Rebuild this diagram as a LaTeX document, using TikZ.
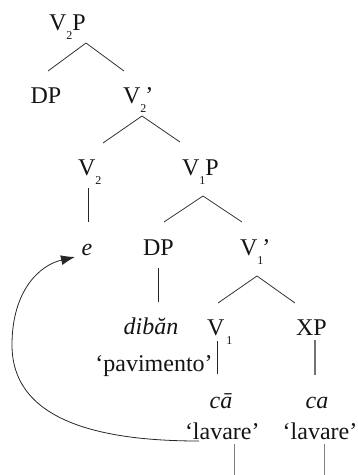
\documentclass[tikz,border=0pt]{standalone}
\usepackage{fontspec}
\setmainfont{Liberation Serif}
\usetikzlibrary{arrows.meta}
% lowered index digit for category labels
\newcommand\lowsub[1]{\raisebox{-9pt}{\fontsize{12}{12}\selectfont #1}}
\begin{document}
\begin{tikzpicture}[x=1pt,y=-1pt,
  lab/.style={inner sep=0pt,outer sep=0pt,font=\fontsize{24}{28}\selectfont,text=black!92},
  branch/.style={line width=0.8pt,draw=black!80},
  stem/.style={line width=0.9pt,draw=black!85},
  graystem/.style={line width=1.2pt,draw=black!55},
  tail/.style={line width=0.5pt,draw=black!50},
  move/.style={line width=0.8pt,draw=black!85,-{Latex[length=14pt,width=10pt]}}]
\useasboundingbox (0,0) rectangle (357,475);

% labels
\node[lab,anchor=base west] (v2p)   at (49,30)   {V\lowsub{2}P};
\node[lab,anchor=base]      (dpA)   at (46,103)  {DP};
\node[lab,anchor=base west] (v2bar) at (123,103) {V\lowsub{2}\kern-1pt’};
\node[lab,anchor=base west] (v2)    at (78,175)  {V\lowsub{2}};
\node[lab,anchor=base west] (v1p)   at (182,175) {V\lowsub{1}P};
\node[lab,anchor=base]      (e)     at (87,255)  {\itshape e};
\node[lab,anchor=base]      (dpB)   at (158.5,255) {DP};
\node[lab,anchor=base west] (v1bar) at (240,255) {V\lowsub{1}\kern-1pt’};
\node[lab,anchor=base]      (diban) at (151,334) {\itshape dibăn};
\node[lab,anchor=base west] (v1)    at (207,335) {V\kern2pt\lowsub{1}};
\node[lab,anchor=base]      (xp)    at (311.5,335) {XP};
\node[lab,anchor=base]      (pav)   at (154,371) {‘pavimento’};
\node[lab,anchor=base]      (caA)   at (221,408) {\itshape cā};
\node[lab,anchor=base]      (caB)   at (317,408) {\itshape ca};
\node[lab,anchor=base west] (lavA)  at (185,439) {‘lavare’};
\node[lab,anchor=base]      (lavB)  at (320,439) {‘lavare’};

% attachment points of the branches
\coordinate (v2p-s)   at (86,43);
\coordinate (dpA-n)   at (48,71);
\coordinate (v2bar-n) at (124,71);
\coordinate (v2bar-s) at (142,116);
\coordinate (v2-n)    at (103,143);
\coordinate (v1p-n)   at (180,142);
\coordinate (v2-s)    at (88,188);
\coordinate (e-n)     at (88,222);
\coordinate (v1p-s)   at (203,196);
\coordinate (dpB-n)   at (164,222);
\coordinate (v1bar-n) at (242,222);
\coordinate (dpB-s)   at (158,268);
\coordinate (diban-n) at (158,302);
\coordinate (v1bar-s) at (257,276);
\coordinate (v1-n)    at (218,303);
\coordinate (xp-n)    at (295,303);
\coordinate (v1-s)    at (217,341);
\coordinate (caA-n)   at (217,374);
\coordinate (xp-s)    at (315,340);
\coordinate (caB-n)   at (315,375);
\coordinate (lavA-s)  at (234,444);
\coordinate (lavA-e)  at (234,475);
\coordinate (lavB-s)  at (324,444);
\coordinate (lavB-e)  at (324,475);
\coordinate (move-a)  at (199,441);
\coordinate (move-b)  at (75,257);

% tree branches
\draw[branch] (dpA-n) -- (v2p-s) -- (v2bar-n);
\draw[branch] (v2-n) -- (v2bar-s) -- (v1p-n);
\draw[branch] (dpB-n) -- (v1p-s) -- (v1bar-n);
\draw[branch] (v1-n) -- (v1bar-s) -- (xp-n);
\draw[stem] (v2-s) -- (e-n);
\draw[stem] (dpB-s) -- (diban-n);
\draw[stem] (v1-s) -- (caA-n);
\draw[graystem] (xp-s) -- (caB-n);
\draw[tail] (lavA-s) -- (lavA-e);
\draw[tail] (lavB-s) -- (lavB-e);

% head movement of the verb
\draw[move] (move-a) .. controls (110,441) and (12,425) .. (12,345)
  .. controls (12,290) and (40,265) .. (move-b);
\end{tikzpicture}
\end{document}
